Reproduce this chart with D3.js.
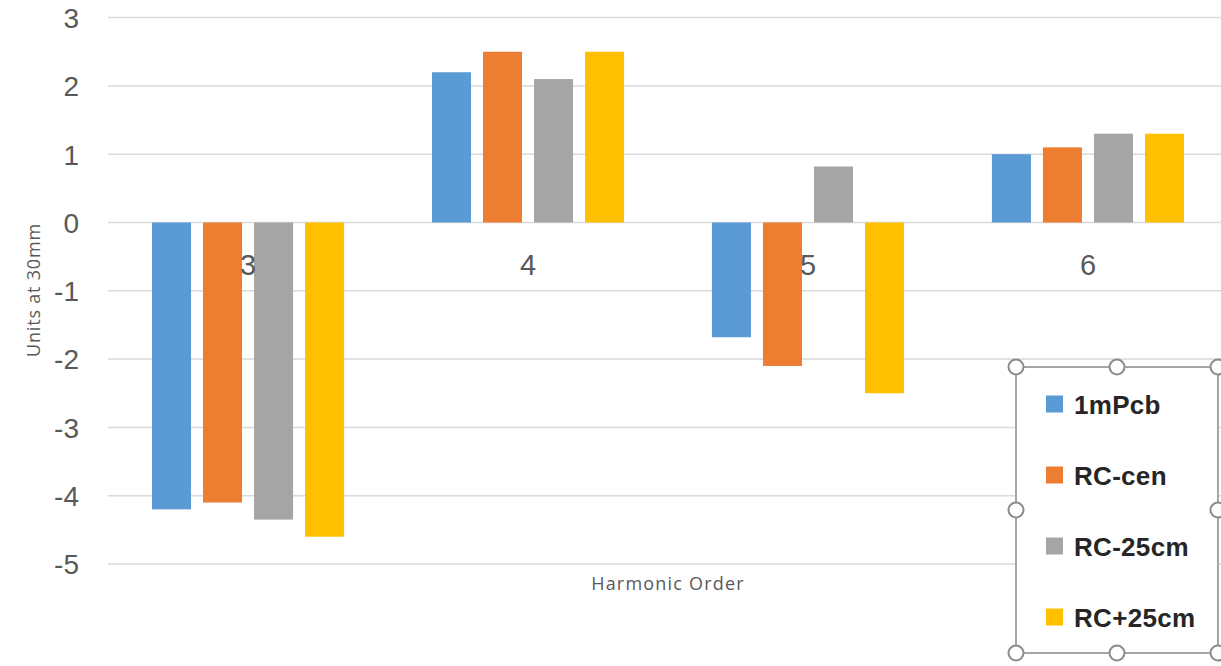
<!DOCTYPE html>
<html>
<head>
<meta charset="utf-8">
<script src="https://cdn.jsdelivr.net/npm/d3@7"></script>
<style>
  html, body { margin: 0; padding: 0; background: #fff; }
  svg { display: block; }
</style>
</head>
<body>
<svg id="chart" width="1221" height="666"></svg>
<script>
const categories = ["3", "4", "5", "6"];
const seriesNames = ["1mPcb", "RC-cen", "RC-25cm", "RC+25cm"];
const seriesColors = ["#5B9BD5", "#ED7D31", "#A5A5A5", "#FFC000"];
const values1mPcb = [-4.2, 2.2, -1.68, 1.0];
const valuesRCcen = [-4.1, 2.5, -2.1, 1.1];
const valuesRCm25 = [-4.35, 2.1, 0.82, 1.3];
const valuesRCp25 = [-4.6, 2.5, -2.5, 1.3];
const yTicks = [3, 2, 1, 0, -1, -2, -3, -4, -5];

const seriesValues = [values1mPcb, valuesRCcen, valuesRCm25, valuesRCp25];

const svg = d3.select("#chart");
const plotLeft = 108, plotRight = 1228;

const y = d3.scaleLinear().domain([-5, 3]).range([564, 17.6]);
const x0 = d3.scaleBand().domain(categories).range([plotLeft, plotRight])
  .paddingInner(0.271).paddingOuter(0.1357);
const x1 = d3.scaleBand().domain(seriesNames).range([0, x0.bandwidth()])
  .paddingInner(12 / 51).paddingOuter(6 / 51);
const color = d3.scaleOrdinal().domain(seriesNames).range(seriesColors);

// gridlines
svg.append("g").selectAll("line").data(yTicks).join("line")
  .attr("x1", plotLeft).attr("x2", 1221)
  .attr("y1", d => y(d)).attr("y2", d => y(d))
  .attr("stroke", "#D9D9D9").attr("stroke-width", 1.5);

// y tick labels
const yAxis = d3.axisLeft(y).tickValues(yTicks).tickFormat(d => String(d)).tickSize(0).tickPadding(0);
const gy = svg.append("g").attr("transform", "translate(79,0)").call(yAxis);
gy.select(".domain").remove();
gy.selectAll("text")
  .attr("font-family", "Liberation Sans, Arial, sans-serif")
  .attr("font-size", 28).attr("fill", "#595959").attr("dy", "0.35em");

// bars
const groups = svg.append("g").selectAll("g").data(categories).join("g")
  .attr("transform", c => `translate(${x0(c)},0)`);
groups.selectAll("rect")
  .data((c, i) => seriesNames.map((s, j) => ({ s, v: seriesValues[j][i] })))
  .join("rect")
  .attr("x", d => x1(d.s))
  .attr("width", x1.bandwidth())
  .attr("y", d => y(Math.max(0, d.v)))
  .attr("height", d => Math.abs(y(d.v) - y(0)))
  .attr("fill", d => color(d.s));

// category labels
const xAxis = d3.axisBottom(x0).tickSize(0).tickPadding(0);
const gx = svg.append("g").attr("transform", `translate(0,${y(0)})`).call(xAxis);
gx.select(".domain").remove();
gx.selectAll("text")
  .attr("font-family", "Liberation Sans, Arial, sans-serif")
  .attr("font-size", 29).attr("fill", "#595959").attr("dy", "1.0em").attr("y", 23);

// axis titles
svg.append("text")
  .attr("transform", "translate(40,290) rotate(-90)")
  .attr("text-anchor", "middle")
  .attr("font-family", "Open Sans, sans-serif")
  .attr("font-size", 18).attr("letter-spacing", 0.8).attr("fill", "#595959")
  .text("Units at 30mm");

svg.append("text")
  .attr("x", 668).attr("y", 590)
  .attr("text-anchor", "middle")
  .attr("font-family", "Open Sans, sans-serif")
  .attr("font-size", 18).attr("letter-spacing", 1.2).attr("fill", "#595959")
  .text("Harmonic Order");

// legend
const lg = { x: 1016, y: 367, w: 202, h: 286 };
svg.append("rect").attr("x", lg.x).attr("y", lg.y).attr("width", lg.w).attr("height", lg.h)
  .attr("fill", "#fff").attr("stroke", "#A6A6A6").attr("stroke-width", 2);

const items = svg.append("g").selectAll("g").data(seriesNames).join("g")
  .attr("transform", (d, i) => `translate(1046,${404 + i * 71})`);
items.append("rect").attr("x", 0).attr("y", -8.5).attr("width", 17).attr("height", 17)
  .attr("fill", d => color(d));
items.append("text").attr("x", 28).attr("y", 9.5)
  .attr("font-family", "Liberation Sans, Arial, sans-serif")
  .attr("font-weight", "bold").attr("font-size", 26).attr("letter-spacing", 0.3).attr("fill", "#262626")
  .text(d => d);

const handles = [
  [lg.x, lg.y], [lg.x + lg.w / 2, lg.y], [lg.x + lg.w, lg.y],
  [lg.x, lg.y + lg.h / 2], [lg.x + lg.w, lg.y + lg.h / 2],
  [lg.x, lg.y + lg.h], [lg.x + lg.w / 2, lg.y + lg.h], [lg.x + lg.w, lg.y + lg.h]
];
svg.append("g").selectAll("circle").data(handles).join("circle")
  .attr("cx", d => d[0]).attr("cy", d => d[1]).attr("r", 7.5)
  .attr("fill", "#fff").attr("stroke", "#8C8C8C").attr("stroke-width", 2);
</script>
</body>
</html>
